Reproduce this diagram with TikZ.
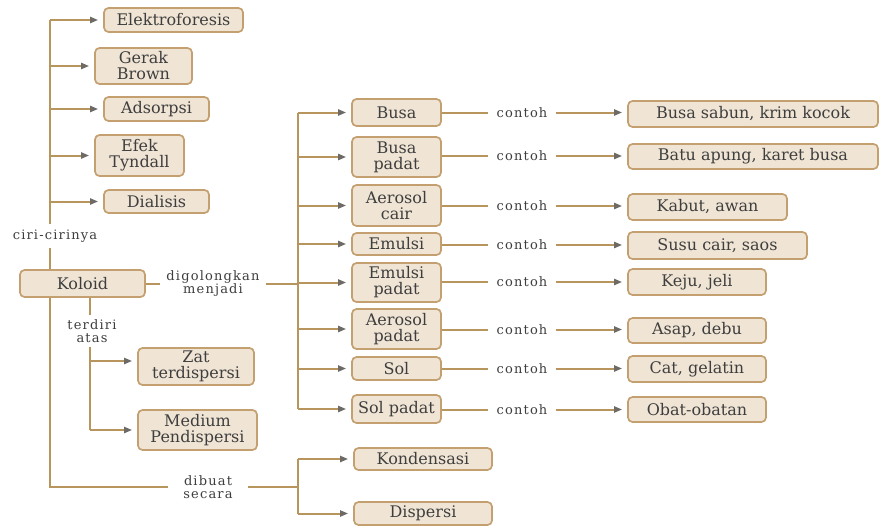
\documentclass[tikz,border=0pt]{standalone}
\usepackage{fontspec}
\setmainfont{DejaVu Serif}
\newfontfamily\lblfont{DejaVu Serif}[LetterSpace=9]
\usetikzlibrary{arrows.meta}
\definecolor{boxfill}{HTML}{F0E5D5}
\definecolor{boxline}{HTML}{C4A070}
\definecolor{conn}{HTML}{B8955C}
\definecolor{tipc}{HTML}{6E6A66}
\definecolor{txt}{HTML}{3E3E3E}
\begin{document}
\begin{tikzpicture}[x=1pt,y=-1pt,
 box/.style={draw=boxline, fill=boxfill, line width=1.7pt, rounded corners=4.5pt, align=center, inner sep=0pt, text=txt, font=\fontsize{16}{16}\selectfont},
 lbl/.style={text=txt, align=center, font=\lblfont\fontsize{13}{13}\selectfont, inner sep=3pt},
 ln/.style={draw=conn, line width=2pt},
 arr/.style={ln, -{Triangle[length=8pt,width=6pt,color=tipc]}, shorten >=5pt},
]
\fill[white] (0,0) rectangle (880,527);
\useasboundingbox (0,0) rectangle (880,527);

% trunk coordinates
\coordinate (trL) at (50,0);
\coordinate (trT) at (90,0);
\coordinate (trM) at (298,0);

% left column boxes
\node[box, minimum width=139pt, minimum height=24pt] (el) at (173.5,20) {Elektroforesis};
\node[box, minimum width=97pt, minimum height=36pt] (gb) at (143.5,66) {Gerak\\Brown};
\node[box, minimum width=105pt, minimum height=24pt] (ad) at (156.5,109) {Adsorpsi};
\node[box, minimum width=89pt, minimum height=41pt] (et) at (139.5,155.5) {Efek\\Tyndall};
\node[box, minimum width=105pt, minimum height=23pt] (di) at (156.5,201.5) {Dialisis};
\node[box, minimum width=125pt, minimum height=27pt] (kol) at (82.5,283.5) {Koloid};
\node[box, minimum width=116pt, minimum height=37pt] (zat) at (196,366.5) {Zat\\terdispersi};
\node[box, minimum width=119pt, minimum height=40pt] (med) at (197.5,430) {Medium\\Pendispersi};

% labels
\node[lbl, inner ysep=6pt] (ciri) at (55,236) {ciri-cirinya};
\node[lbl, inner xsep=6pt] (dig) at (213,283.5) {digolongkan\\menjadi};
\node[lbl, inner ysep=4pt] (ter) at (92,331) {terdiri\\atas};
\node[lbl, inner xsep=15pt] (dib) at (208,487) {dibuat\\secara};

% middle boxes
\node[box, minimum width=89pt, minimum height=27pt] (m1) at (396.5,112.5) {Busa};
\node[box, minimum width=89pt, minimum height=40pt] (m2) at (396.5,157) {Busa\\padat};
\node[box, minimum width=89pt, minimum height=41pt] (m3) at (396.5,205.5) {Aerosol\\cair};
\node[box, minimum width=89pt, minimum height=22pt] (m4) at (396.5,244) {Emulsi};
\node[box, minimum width=89pt, minimum height=39pt] (m5) at (396.5,282.5) {Emulsi\\padat};
\node[box, minimum width=89pt, minimum height=40pt] (m6) at (396.5,329) {Aerosol\\padat};
\node[box, minimum width=89pt, minimum height=23pt] (m7) at (396.5,368.5) {Sol};
\node[box, minimum width=89pt, minimum height=28pt] (m8) at (396.5,409) {Sol padat};

% right boxes
\node[box, minimum width=250pt, minimum height=26pt] (r1) at (753,114) {Busa sabun, krim kocok};
\node[box, minimum width=250pt, minimum height=25pt] (r2) at (753,156.5) {Batu apung, karet busa};
\node[box, minimum width=159pt, minimum height=26pt] (r3) at (707.5,207) {Kabut, awan};
\node[box, minimum width=179pt, minimum height=27pt] (r4) at (717.5,245.5) {Susu cair, saos};
\node[box, minimum width=138pt, minimum height=26pt] (r5) at (697,282) {Keju, jeli};
\node[box, minimum width=138pt, minimum height=25pt] (r6) at (697,330.5) {Asap, debu};
\node[box, minimum width=138pt, minimum height=26pt] (r7) at (697,369) {Cat, gelatin};
\node[box, minimum width=138pt, minimum height=25pt] (r8) at (697,409.5) {Obat-obatan};

% bottom boxes
\node[box, minimum width=138pt, minimum height=22pt] (kon) at (423,459) {Kondensasi};
\node[box, minimum width=138pt, minimum height=23pt] (dis) at (423,513.5) {Dispersi};

% contoh labels and connectors
\foreach \i/\yy in {1/112.5,2/156,3/206,4/245,5/282,6/329.5,7/368.5,8/409.5}{
  \node[lbl, inner xsep=8pt] (c\i) at (522,\yy) {contoh};
  \draw[ln] (m\i.east |- c\i.west) -- (c\i.west);
  \draw[arr] (c\i.east) -- (c\i.east -| r\i.west);
}

% left trunk
\draw[ln] (el.west -| trL) -- (ciri.north -| trL);
\draw[ln] (ciri.south -| trL) -- (kol.north -| trL);
\foreach \b in {el,gb,ad,et,di}{
  \draw[arr] (\b.west -| trL) -- (\b.west);
}
\coordinate (dbC) at (50,487);
\draw[ln] (kol.south -| trL) -- (dbC) -- (dib.west);
\draw[ln] (dib.east) -- (dib.east -| trM);
\draw[ln] (kon.west -| trM) -- (dis.west -| trM);
\draw[arr] (kon.west -| trM) -- (kon.west);
\draw[arr] (dis.west -| trM) -- (dis.west);

% digolongkan
\draw[ln] (kol.east) -- (dig.west);
\draw[ln] (dig.east) -- (dig.east -| trM);
\draw[ln] (m1.west -| trM) -- (m8.west -| trM);
\foreach \i in {1,...,8}{
  \draw[arr] (m\i.west -| trM) -- (m\i.west);
}

% terdiri atas
\coordinate (aZ) at (90,361);
\draw[ln] (kol.south -| trT) -- (ter.north -| trT);
\draw[ln] (ter.south -| trT) -- (med.west -| trT);
\draw[arr] (aZ) -- (aZ -| zat.west);
\draw[arr] (med.west -| trT) -- (med.west);
\end{tikzpicture}
\end{document}
